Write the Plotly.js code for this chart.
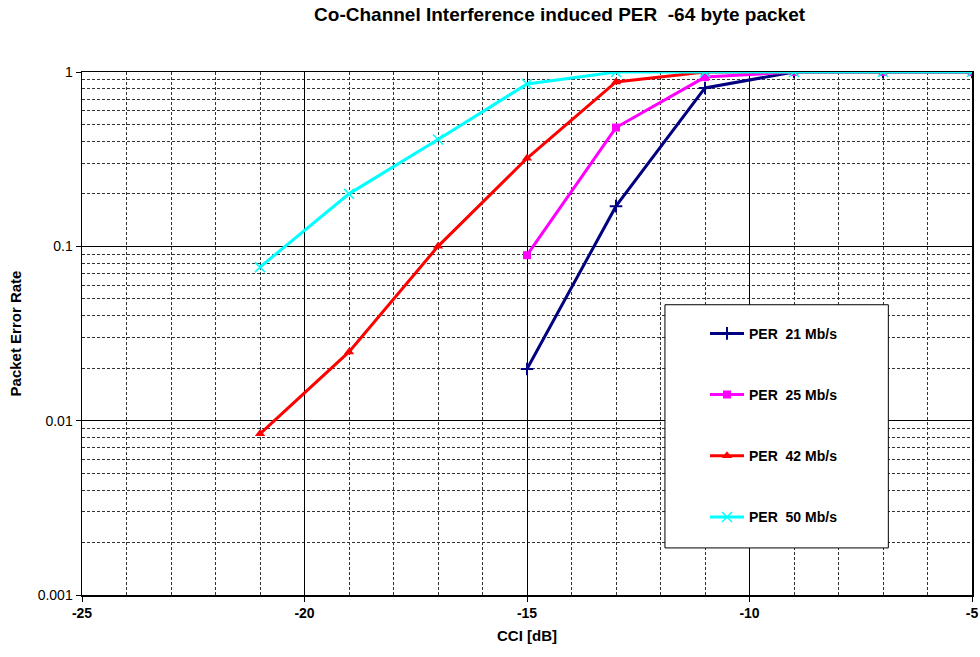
<!DOCTYPE html>
<html>
<head>
<meta charset="utf-8">
<script src="https://cdn.plot.ly/plotly-3.0.1.min.js"></script>
<style>html,body{margin:0;padding:0;background:#fff;}#chart{width:980px;height:657px;}</style>
</head>
<body>
<div id="chart"></div>
<script>
const xTickVals = [-25, -20, -15, -10, -5];
const xTickText = ['-25', '-20', '-15', '-10', '-5'];
const yTickVals = [0.001, 0.01, 0.1, 1];
const yTickText = ['0.001', '0.01', '0.1', '1'];
const x21 = [-15, -13, -11, -9, -7, -5];
const per21 = [0.0198, 0.17, 0.81, 1, 1, 1];
const x25 = [-15, -13, -11, -9, -7, -5];
const per25 = [0.089, 0.48, 0.935, 1, 1, 1];
const x42 = [-21, -19, -17, -15, -13, -11, -9, -7, -5];
const per42 = [0.0084, 0.0248, 0.1, 0.32, 0.877, 1, 1, 1, 1];
const x50 = [-21, -19, -17, -15, -13, -11, -9, -7, -5];
const per50 = [0.076, 0.2, 0.41, 0.853, 1, 1, 1, 1, 1];
const names = ['PER  21 Mb/s', 'PER  25 Mb/s', 'PER  42 Mb/s', 'PER  50 Mb/s'];
const colors = ['#000080', '#FF00FF', '#FF0000', '#00FFFF'];

const mk = (x, y, i, sym, size, lw) => ({
  x: x, y: y, name: names[i], type: 'scatter', mode: 'lines+markers',
  legendgroup: 'g' + i,
  line: {color: colors[i], width: 3},
  marker: {symbol: sym, size: size, color: colors[i], line: {color: colors[i], width: lw}}
});

const traces = [
  mk(x21, per21, 0, 'cross-thin', 9, 2),
  mk(x25, per25, 1, 'square', 8, 0),
  mk(x42, per42, 2, 'triangle-up', 9, 0),
  mk(x50, per50, 3, 'x-thin', 10, 1.5)
];

const fam = 'Arial, Liberation Sans, sans-serif';
const tickB = {family: fam, size: 14, color: '#000', weight: 700};
const tickR = {family: fam, size: 14, color: '#000', weight: 400};
const ttl = {family: fam, size: 15, color: '#000', weight: 700};
const layout = {
  width: 980, height: 657,
  margin: {l: 82, r: 8, t: 72, b: 62},
  paper_bgcolor: '#fff', plot_bgcolor: '#fff',
  title: {text: 'Co-Channel Interference induced PER  -64 byte packet', x: 0.571, xanchor: 'center', y: 0.988, yanchor: 'top',
          font: {family: fam, size: 19, color: '#000', weight: 700}},
  xaxis: {
    range: [-25, -5], tickvals: xTickVals, ticktext: xTickText,
    showgrid: true, gridcolor: '#000', gridwidth: 1,
    showline: true, linecolor: '#000', linewidth: 1.5, mirror: true,
    ticks: 'outside', ticklen: 5, tickcolor: '#000',
    zeroline: false, tickfont: tickB,
    minor: {dtick: 1, tick0: -25, showgrid: true, gridcolor: '#333', griddash: '3px,2px', gridwidth: 1},
    title: {text: 'CCI [dB]', font: ttl, standoff: 10}
  },
  yaxis: {
    type: 'log', range: [-3, 0],
    tickvals: yTickVals, ticktext: yTickText,
    showgrid: true, gridcolor: '#000', gridwidth: 1,
    showline: true, linecolor: '#000', linewidth: 1.5, mirror: true,
    ticks: 'outside', ticklen: 5, tickcolor: '#000',
    zeroline: false, tickfont: tickR,
    minor: {dtick: 'D1', showgrid: true, gridcolor: '#333', griddash: '3px,2px', gridwidth: 1},
    title: {text: 'Packet Error Rate', font: ttl, standoff: 12}
  },
  showlegend: true,
  legend: {
    x: 0.7, y: 0.53, xanchor: 'left', yanchor: 'top',
    bgcolor: 'rgba(0,0,0,0)', borderwidth: 0,
    tracegroupgap: 40, itemwidth: 34,
    font: {family: fam, size: 14, color: '#000', weight: 700}
  },
  shapes: [{
    type: 'rect', xref: 'paper', yref: 'paper',
    x0: 0.655, x1: 0.906, y0: 0.09, y1: 0.555,
    line: {color: '#000', width: 1}, fillcolor: '#fff', layer: 'above'
  }]
};

Plotly.newPlot('chart', traces, layout, {displayModeBar: false, staticPlot: true});
</script>
</body>
</html>
